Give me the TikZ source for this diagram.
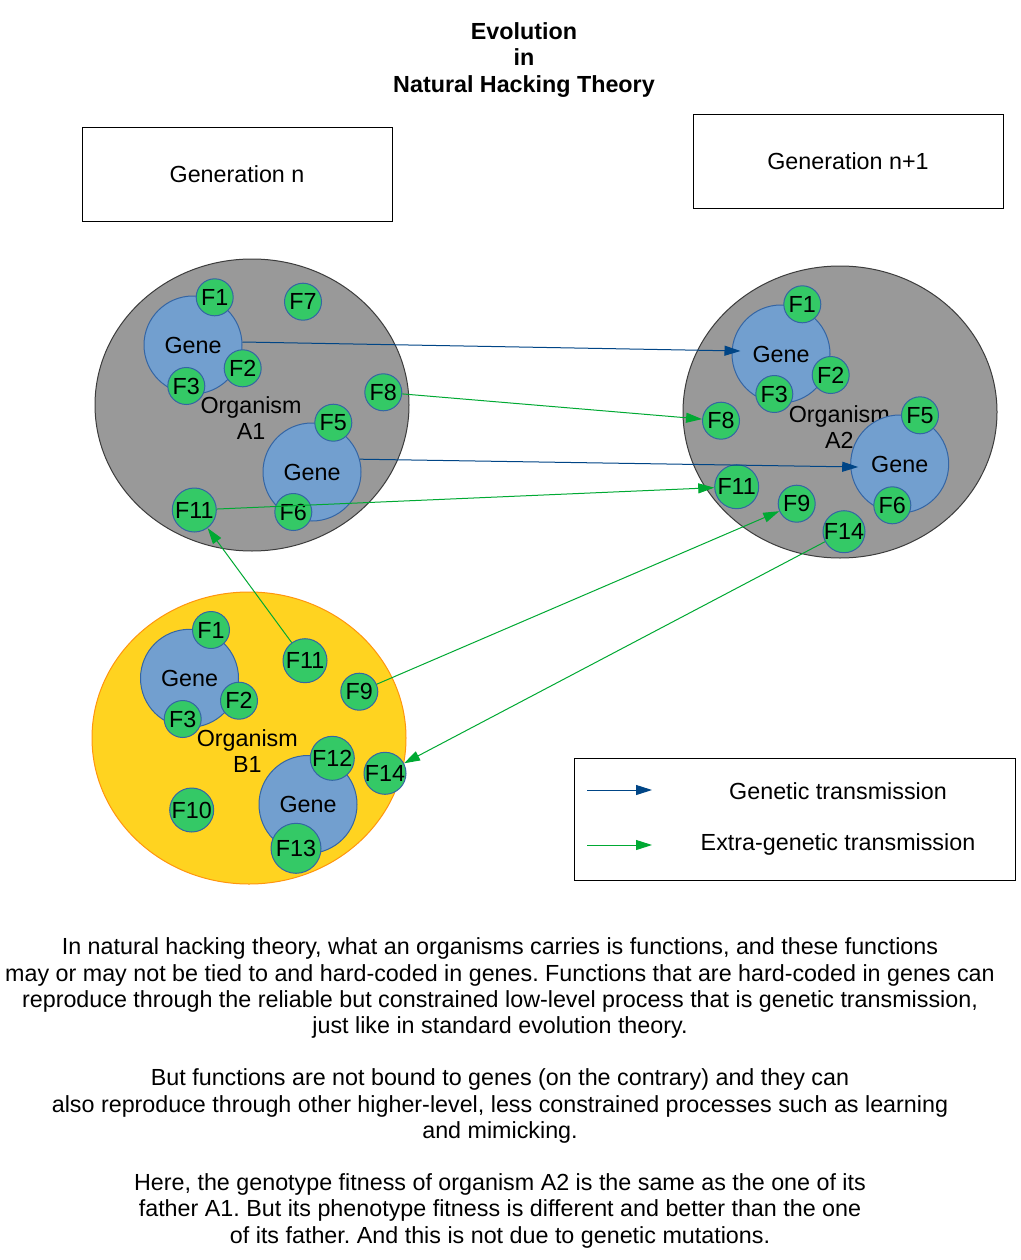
\documentclass[tikz,border=0pt]{standalone}
\usepackage{fontspec}
\setmainfont{Liberation Sans}
\usetikzlibrary{arrows.meta,shapes.geometric}
\definecolor{orggray}{HTML}{999999}
\definecolor{orgedge}{HTML}{3C3C3C}
\definecolor{orgyellow}{HTML}{FFD320}
\definecolor{orgorange}{HTML}{FF950E}
\definecolor{genefill}{HTML}{729FCF}
\definecolor{geneedge}{HTML}{3465A4}
\definecolor{fnfill}{HTML}{34C966}
\definecolor{genblue}{HTML}{004586}
\definecolor{extgreen}{HTML}{00A933}
\tikzset{
  organism/.style={ellipse, draw=orgedge, fill=orggray, line width=1pt, minimum width=314pt, minimum height=292pt, inner sep=0pt},
  organismB/.style={organism, draw=orgorange, fill=orgyellow},
  orglabel/.style={align=center, inner sep=0pt},
  gene/.style={circle, draw=geneedge, fill=genefill, line width=1pt, minimum size=98pt, inner sep=-6pt},
  fn/.style={circle, draw=geneedge, fill=fnfill, line width=1pt, minimum size=37pt, inner sep=-6pt},
  fnbig/.style={fn, minimum size=44pt},
  genarrow/.style={draw=genblue, line width=1pt, -{Triangle[length=16pt,width=10pt]}},
  extarrow/.style={draw=extgreen, line width=1pt, -{Triangle[length=16pt,width=10pt]}},
  genbox/.style={draw=black, line width=0.8pt, minimum width=310pt, minimum height=94pt, inner sep=0pt},
}
\begin{document}
\begin{tikzpicture}[x=1pt,y=-1pt, font=\fontsize{23.3}{26.2}\selectfont\frenchspacing]
\useasboundingbox[fill=white] (0,0) rectangle (1020,1260);

% title
\node[align=center, font=\fontsize{23.3}{26.2}\selectfont\bfseries] (title) at (524,60) {Evolution\\in\\Natural Hacking Theory};

% generation boxes
\node[genbox] (gn) at (237,174) {Generation n};
\node[genbox] (gn1) at (848,161) {Generation n+1};

% Organism A1
\node[organism] (A1) at (252,405) {};
\node[orglabel] (A1lab) at (251,418) {Organism\\A1};
\node[gene] (a1g1) at (193,345) {Gene};
\node[gene] (a1g2) at (312,472) {Gene};
\node[fn] (a1f1) at (214.7,297.3) {F1};
\node[fn] (a1f7) at (303,301.7) {F7};
\node[fn] (a1f2) at (242.7,368.3) {F2};
\node[fn] (a1f3) at (186.3,386) {F3};
\node[fn] (a1f8) at (383.3,392.3) {F8};
\node[fn] (a1f5) at (333.3,422.7) {F5};
\node[fnbig] (a1f11) at (194.3,510) {F11};
\node[fn] (a1f6) at (293.3,512) {F6};

% Organism A2
\node[organism] (A2) at (840,412) {};
\node[orglabel] (A2lab) at (839.3,426.7) {Organism\\A2};
\node[gene] (a2g1) at (781,354) {Gene};
\node[gene] (a2g2) at (899.7,464) {Gene};
\node[fn] (a2f1) at (802.3,304.3) {F1};
\node[fn] (a2f2) at (830.7,375) {F2};
\node[fn] (a2f3) at (774.3,394) {F3};
\node[fn] (a2f8) at (721,420.7) {F8};
\node[fn] (a2f5) at (920,415.3) {F5};
\node[fn] (a2f6) at (892.3,505.3) {F6};
\node[fnbig] (a2f11) at (736.7,486.7) {F11};
\node[fn] (a2f9) at (796.7,503.7) {F9};
\node[fn, minimum size=42pt] (a2f14) at (844,531.7) {F14};

% Organism B1
\node[organismB] (B1) at (249,738) {};
\node[orglabel] (B1lab) at (247.3,751) {Organism\\B1};
\node[gene] (b1g1) at (189.5,678.3) {Gene};
\node[gene] (b1g2) at (308,804.5) {Gene};
\node[fn] (b1f1) at (211,630) {F1};
\node[fn] (b1f2) at (239,700.7) {F2};
\node[fn] (b1f3) at (182.7,719) {F3};
\node[fnbig] (b1f11) at (305,660.7) {F11};
\node[fn] (b1f9) at (359.3,691.7) {F9};
\node[fnbig] (b1f12) at (332.3,758.3) {F12};
\node[fn, minimum size=42pt] (b1f14) at (385,773.3) {F14};
\node[fnbig] (b1f10) at (191.7,810) {F10};
\node[fn, minimum size=50pt] (b1f13) at (296,848.3) {F13};

% genetic transmissions
\draw[genarrow] ([yshift=3pt]a1g1.east) -- ([xshift=9pt,yshift=3pt]a2g1.west);
\draw[genarrow] (a1g2.15) -- ([xshift=8pt,yshift=-3pt]a2g2.west);

% extra-genetic transmissions
\draw[extarrow] (a1f8) -- (a2f8);
\draw[extarrow] (a1f11) -- (a2f11);
\draw[extarrow] (b1f11) -- (a1f11);
\draw[extarrow] (b1f9) -- (a2f9);
\draw[extarrow] (a2f14) -- (b1f14);

% legend
\node[draw=black, line width=0.8pt, minimum width=441pt, minimum height=122pt, inner sep=0pt] (legend) at (794.5,819) {};
\coordinate (lg1s) at (587,790);
\coordinate (lg1e) at (652,790);
\coordinate (lg2s) at (587,845);
\coordinate (lg2e) at (652,845);
\draw[genarrow] (lg1s) -- (lg1e);
\draw[extarrow] (lg2s) -- (lg2e);
\node (lgt1) at (838,791) {Genetic transmission};
\node (lgt2) at (838,844) {Extra-genetic transmission};

% explanation text
\node[align=center, inner sep=0pt] (expl) at (500,1093) {%
In natural hacking theory, what an organisms carries is functions, and these functions\\
may or may not be tied to and hard-coded in genes. Functions that are hard-coded in genes can\\
reproduce through the reliable but constrained low-level process that is genetic transmission,\\
just like in standard evolution theory.\\[26.2pt]
But functions are not bound to genes (on the contrary) and they can\\
also reproduce through other higher-level, less constrained processes such as learning\\
and mimicking.\\[26.2pt]
Here, the genotype fitness of organism A2 is the same as the one of its\\
father A1. But its phenotype fitness is different and better than the one\\
of its father. And this is not due to genetic mutations.};
\end{tikzpicture}
\end{document}
